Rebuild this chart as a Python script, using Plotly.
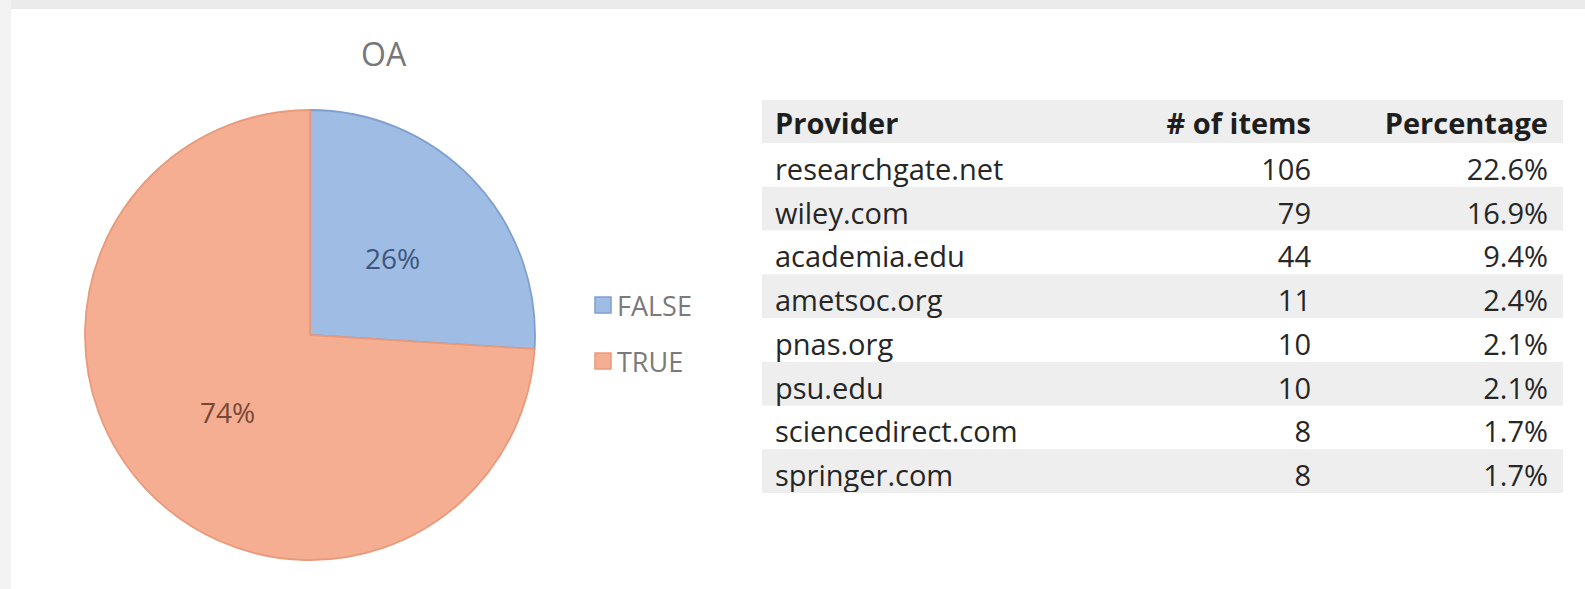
import math
import plotly.graph_objects as go

W, H = 1585, 589

# ---- data ----
pie_labels = ["FALSE", "TRUE"]
pie_values = [26, 74]
pie_colors = ["#9ebce4", "#f5ae92"]
pie_line_colors = ["#7f9fcf", "#e99a7a"]
pie_text_colors = ["#3d5679", "#774838"]

providers = ["researchgate.net", "wiley.com", "academia.edu", "ametsoc.org",
             "pnas.org", "psu.edu", "sciencedirect.com", "springer.com"]
items = [106, 79, 44, 11, 10, 10, 8, 8]
percentages = ["22.6%", "16.9%", "9.4%", "2.4%", "2.1%", "2.1%", "1.7%", "1.7%"]
headers = ["Provider", "# of items", "Percentage"]

# ---- layout helpers (pixels -> paper) ----
def px(x):
    return x / W

def py(y):
    return 1 - y / H

fig = go.Figure()

# Pie
cx, cy, R = 310, 335, 225
fig.add_trace(go.Pie(
    labels=pie_labels, values=pie_values, sort=False, direction="clockwise",
    rotation=0, textinfo="none", hoverinfo="label+percent",
    marker=dict(colors=pie_colors, line=dict(color=pie_line_colors, width=1.8)),
    domain=dict(x=[px(cx - R), px(cx + R)], y=[py(cy + R), py(cy - R)]),
    showlegend=False,
))

annotations = []
shapes = []

# data labels at mid-angle, half radius
total = sum(pie_values)
cum = 0
for v, tc in zip(pie_values, pie_text_colors):
    mid = (cum + v / 2) / total * 2 * math.pi
    cum += v
    lx = cx + 0.5 * R * math.sin(mid)
    ly = cy - 0.5 * R * math.cos(mid)
    annotations.append(dict(
        x=px(lx), y=py(ly), xref="paper", yref="paper", showarrow=False,
        text=f"{round(v / total * 100)}%",
        font=dict(family="Open Sans", size=28, color=tc),
        xanchor="center", yanchor="middle"))

# title
annotations.append(dict(x=px(384), y=py(54), xref="paper", yref="paper",
                        showarrow=False, text="OA",
                        font=dict(family="Open Sans", size=32, color="#777777"),
                        xanchor="center", yanchor="middle"))

# manual legend
leg_y = [305, 361]
for lab, col, lcol, yy in zip(pie_labels, pie_colors, pie_line_colors, leg_y):
    shapes.append(dict(type="rect", xref="paper", yref="paper",
                       x0=px(595), x1=px(611), y0=py(yy + 8), y1=py(yy - 8),
                       fillcolor=col, line=dict(color=lcol, width=1.5)))
    annotations.append(dict(x=px(615), y=py(yy), xref="paper", yref="paper",
                            showarrow=False, text=lab,
                            font=dict(family="Open Sans", size=27, color="#7a7a7a"),
                            xanchor="left", yanchor="middle"))

# background strips
shapes.append(dict(type="rect", xref="paper", yref="paper", x0=0, x1=1,
                   y0=py(9), y1=1, fillcolor="#ebebeb", line_width=0, layer="below"))
shapes.append(dict(type="rect", xref="paper", yref="paper", x0=0, x1=px(11),
                   y0=0, y1=1, fillcolor="#f3f3f3", line_width=0, layer="below"))

# table row shading (header + alternating rows)
t_left, t_right, t_top = 762, 1563, 100
hdr_h, row_h = 43, 43.75
row_tops = [t_top] + [t_top + hdr_h + i * row_h for i in range(len(providers))]
row_bots = [t_top + hdr_h] + [t_top + hdr_h + (i + 1) * row_h for i in range(len(providers))]
for i, (a, b) in enumerate(zip(row_tops, row_bots)):
    if i % 2 == 0:
        shapes.append(dict(type="rect", xref="paper", yref="paper",
                           x0=px(t_left), x1=px(t_right), y0=py(b), y1=py(a),
                           fillcolor="#eeeeee", line_width=0, layer="below"))

# table (slightly raised so text sits like the reference)
tx0, tx1 = 767, 1556
shift = 5
fig.add_trace(go.Table(
    domain=dict(x=[px(tx0), px(tx1)], y=[py(row_bots[-1] + 4 - shift), py(t_top - shift)]),
    columnwidth=[323, 229, 237],
    header=dict(values=[f"<b>{h}</b>" for h in headers],
                align=["left", "right", "right"], height=hdr_h,
                fill_color="rgba(0,0,0,0)", line=dict(width=0),
                font=dict(family="Open Sans", size=29, color="#1e1e1e")),
    cells=dict(values=[providers, items, percentages],
               align=["left", "right", "right"], height=row_h,
               fill_color="rgba(0,0,0,0)", line=dict(width=0),
               font=dict(family="Open Sans", size=29, color="#262626")),
))

fig.update_layout(width=W, height=H, margin=dict(l=0, r=0, t=0, b=0),
                  paper_bgcolor="white", plot_bgcolor="white",
                  shapes=shapes, annotations=annotations)

fig.write_html("out.html")
